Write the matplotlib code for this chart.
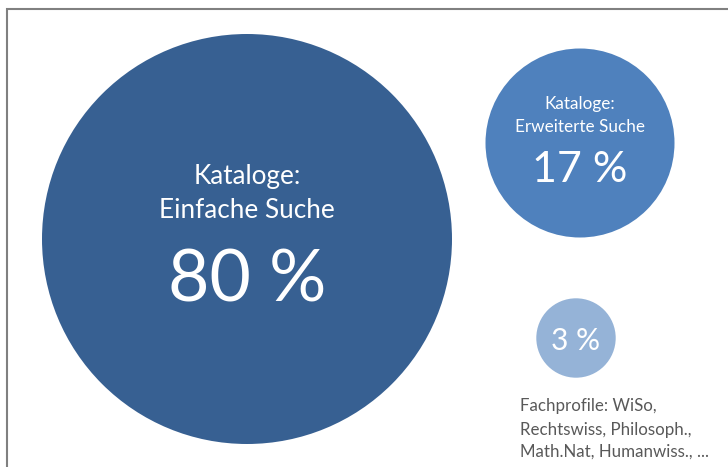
import numpy as np
import matplotlib.pyplot as plt
from matplotlib.patches import Circle

# === Daten ===
labels = ["Kataloge:\nEinfache Suche", "Kataloge:\nErweiterte Suche", ""]
shares = [80, 17, 3]
colors = ["#376092", "#4f81bd", "#95b3d7"]
footnote = "Fachprofile: WiSo,\nRechtswiss, Philosoph.,\nMath.Nat, Humanwiss., ..."

# Layout (Pixelkoordinaten)
centers = [(247, 239), (580, 143), (576, 338)]
scale = 205 / np.sqrt(80)   # Flaeche ~ Anteil
label_size = [18.8, 12.3, 0]
pct_size = [51.5, 31, 21.5]
label_y = [(184, 218), (109, 132), ()]
pct_y = [302, 182, 350]

plt.rcParams['font.family'] = ['Lato', 'DejaVu Sans']

fig = plt.figure(figsize=(7.28, 4.67), dpi=100)
ax = fig.add_axes([0, 0, 1, 1])
ax.set_xlim(0, 728)
ax.set_ylim(467, 0)
ax.set_aspect('equal')
ax.axis('off')

# Rahmen oben / links
ax.plot([7, 7, 728], [467, 9, 9], color='#808080', lw=1.5, solid_joinstyle='miter')

for i, v in enumerate(shares):
    cx, cy = centers[i]
    ax.add_patch(Circle((cx, cy), scale * np.sqrt(v), color=colors[i], lw=0))
    lines = labels[i].split("\n") if labels[i] else []
    for line, y in zip(lines, label_y[i]):
        ax.text(cx, y, line, ha='center', va='baseline', color='white',
                fontsize=label_size[i])
    ax.text(cx, pct_y[i], f"{v} %", ha='center', va='baseline', color='white',
            fontsize=pct_size[i])

for line, y in zip(footnote.split("\n"), [411, 435, 457]):
    ax.text(520, y, line, ha='left', va='baseline', color='#595959', fontsize=12.2)

fig.savefig("out.png", dpi=100)
